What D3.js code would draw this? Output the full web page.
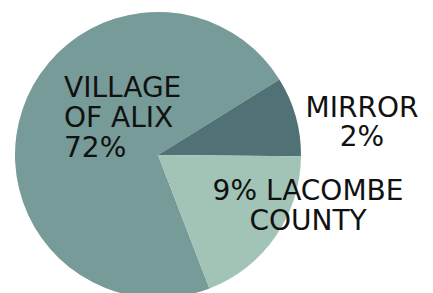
<!DOCTYPE html>
<html>
<head>
<meta charset="utf-8">
<script src="https://cdn.jsdelivr.net/npm/d3@7"></script>
<style>
  body { margin: 0; background: #fff; }
  text { font-family: "DejaVu Sans", sans-serif; fill: #111; }
</style>
</head>
<body>
<div class="pie-container"></div>
<script>
// slice data (share of pie)
const names = ['VILLAGE OF ALIX', 'MIRROR', 'LACOMBE COUNTY'];
const shares = [72, 9, 19];
const labels = [['VILLAGE', 'OF ALIX', '72%'], ['MIRROR', '2%'], ['9% LACOMBE', 'COUNTY']];
const colors = ['#769b98', '#507277', '#a1c4b7'];

const width = 433;
const height = 293;
const cx = 158, cy = 155, radius = 143;

const svg = d3.select('.pie-container')
  .append('svg')
  .attr('width', width)
  .attr('height', height);

const g = svg.append('g').attr('transform', `translate(${cx},${cy})`);

const start = 158.9 * Math.PI / 180;
const pie = d3.pie().sort(null).value(d => d).startAngle(start).endAngle(start + 2 * Math.PI);
const arc = d3.arc().innerRadius(0).outerRadius(radius);

g.selectAll('.slice')
  .data(pie(shares))
  .enter()
  .append('path')
  .attr('class', 'slice')
  .attr('d', arc)
  .style('fill', (d, i) => colors[i]);

// label anchors (relative to the pie centre)
const labelPos = [
  { x: -94, y: -58, anchor: 'start', step: 30 },
  { x: 204, y: -38, anchor: 'middle', step: 29 },
  { x: 150, y: 45, anchor: 'middle', step: 30 }
];

labels.forEach((lines, i) => {
  const p = labelPos[i];
  const t = g.append('text')
    .attr('text-anchor', p.anchor)
    .style('font-size', '28px');
  lines.forEach((l, j) => {
    t.append('tspan').attr('x', p.x).attr('y', p.y + j * p.step).text(l);
  });
});
</script>
</body>
</html>
